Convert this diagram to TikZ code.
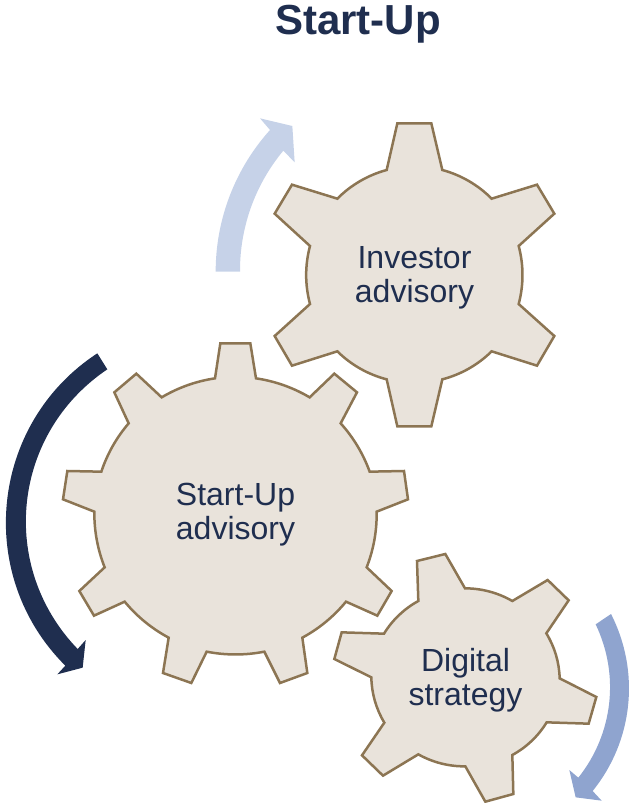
\documentclass[tikz,border=0pt]{standalone}
\usepackage{fontspec}
\setmainfont{Liberation Sans}
\definecolor{gearfill}{HTML}{E9E3DB}
\definecolor{gearline}{HTML}{8C7553}
\definecolor{navy}{HTML}{1F2E4F}
\definecolor{lightarrow}{HTML}{C6D2E8}
\definecolor{midarrow}{HTML}{8FA4CF}
\tikzset{
  gearshape/.style={fill=gearfill,draw=gearline,line width=2.5pt,line join=miter},
  gearlabel/.style={text=navy,align=center,inner sep=0pt,font=\fontsize{32}{34}\selectfont},
  titlelabel/.style={text=navy,inner sep=0pt,font=\fontsize{42}{46}\selectfont\bfseries},
  rim/.style={bend left=#1,looseness=.87},
  zoomed/.style={x=0.33333pt,y=-0.33333pt}
}
\begin{document}
\begin{tikzpicture}[x=1pt,y=-1pt]
\useasboundingbox (0,0) rectangle (629,803);
\node[titlelabel] (title) at (358,24) {Start-Up};
% light arrow
\begin{scope}[xshift=200pt,yshift=-100pt,zoomed]
\fill[lightarrow] (47,515) to[bend left=21,looseness=.88] (210,90) -- (180,55) -- (277,78) -- (284,187) -- (250,152) to[bend right=20,looseness=.88] (120,515) -- cycle;
\draw[gearshape] (592,70) -- (694,70) -- (727,210) to[rim=15] (875,296) -- (1011,254) -- (1063,341) -- (956,438) to[rim=15] (956,612) -- (1063,708) -- (1011,797) -- (875,754) to[rim=15] (727,838) -- (694,979) -- (592,979) -- (560,838) to[rim=15] (412,754) -- (276,797) -- (224,708) -- (330,612) to[rim=15] (330,438) -- (224,341) -- (276,254) -- (412,296) to[rim=15] (560,210) -- cycle;
\end{scope}
\node[gearlabel] (investor) at (414.5,277.5) {Investor\\advisory};
% dark arrow and middle gear
\begin{scope}[yshift=-335pt,zoomed]
\fill[navy] (292,55) to[bend right=51,looseness=1.045] (196,992) -- (172,1018) -- (248,998) -- (257,915) -- (233,942) to[bend left=50,looseness=1.045] (322,103) -- cycle;
\draw[gearshape] (661,25) -- (751,25) -- (768,130) to[rim=11] (929,187) -- (1003,116) -- (1071,172) -- (1022,265) to[rim=11] (1109,410) -- (1212,408) -- (1224,493) -- (1130,530) to[rim=11] (1100,697) -- (1175,768) -- (1132,842) -- (1038,800) to[rim=11] (907,908) -- (922,1014) -- (840,1044) -- (793,950) to[rim=11] (620,950) -- (574,1044) -- (489,1014) -- (506,908) to[rim=11] (374,800) -- (282,842) -- (238,768) -- (314,697) to[rim=11] (283,530) -- (189,493) -- (202,408) -- (304,410) to[rim=11] (386,265) -- (343,172) -- (409,116) -- (485,187) to[rim=11] (645,130) -- cycle;
\end{scope}
\node[gearlabel] (startup) at (235.5,514.5) {Start-Up\\advisory};
% blue arrow and small gear
\begin{scope}[xshift=325pt,yshift=-545pt,zoomed]
\fill[midarrow] (858,207) to[bend left=33,looseness=.93] (803,738) -- (830,767) -- (752,757) -- (733,675) -- (760,698) to[bend right=32,looseness=.93] (812,238) -- cycle;
\draw[gearshape] (276,48) -- (361,27) -- (420,130) to[rim=15] (562,168) -- (668,105) -- (731,166) -- (664,265) to[rim=15] (704,400) -- (814,456) -- (791,536) -- (665,532) to[rim=15] (562,630) -- (565,747) -- (481,770) -- (421,664) to[rim=15] (280,628) -- (174,692) -- (111,631) -- (178,533) to[rim=15] (139,397) -- (28,342) -- (50,262) -- (177,266) to[rim=15] (280,168) -- cycle;
\end{scope}
\node[gearlabel] (digital) at (465.5,680.5) {Digital\\strategy};
\end{tikzpicture}
\end{document}
